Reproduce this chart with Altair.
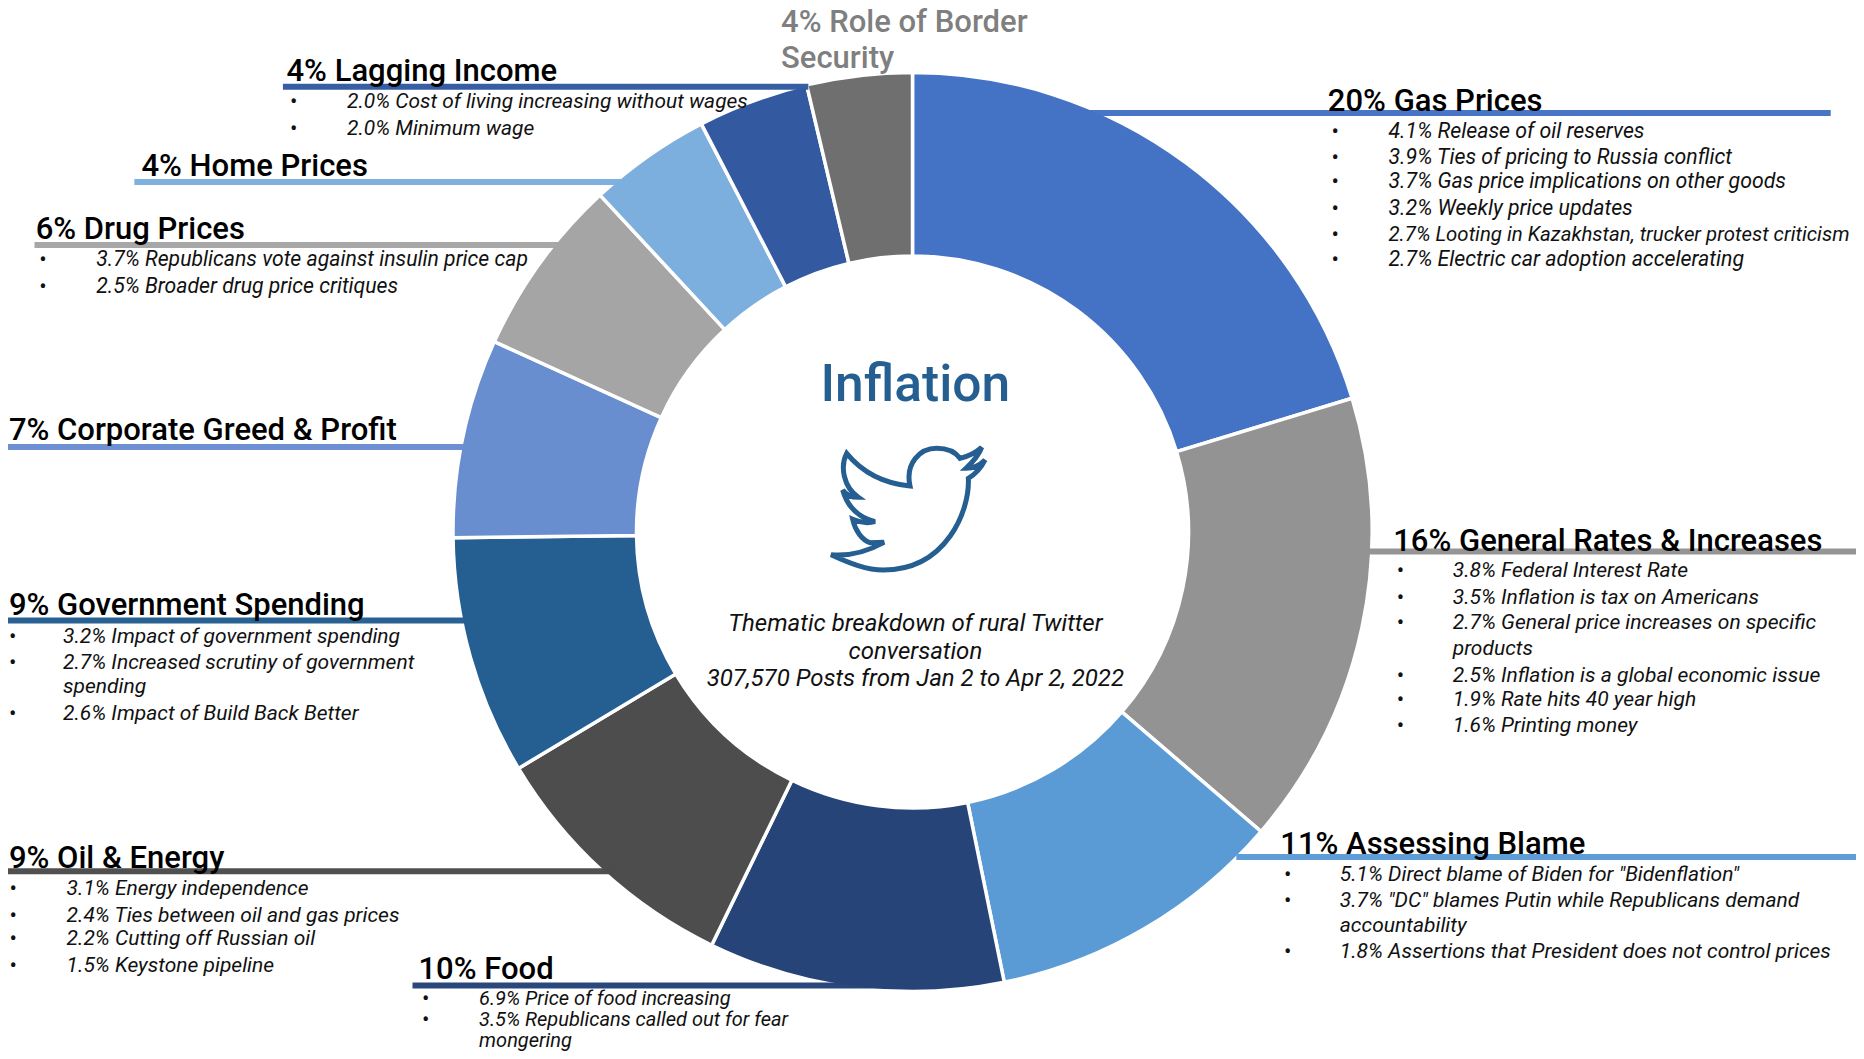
import altair as alt
import pandas as pd

# ---- chart values ----
themes = ["Gas Prices", "General Rates & Increases", "Assessing Blame", "Food", "Oil & Energy",
          "Government Spending", "Corporate Greed & Profit", "Drug Prices", "Home Prices",
          "Lagging Income", "Role of Border Security"]
shares = [20.3, 16.0, 10.5, 10.4, 9.2, 8.4, 7.0, 6.3, 4.3, 3.9, 3.7]
colors = ["#4472C4", "#939393", "#5B9BD5", "#264478", "#4D4D4D", "#255E91", "#698ED0",
          "#A5A5A5", "#7CAFDD", "#335AA1", "#6F6F6F"]

headers = ["20% Gas Prices", "16% General Rates & Increases", "11% Assessing Blame", "10% Food",
           "9% Oil & Energy", "9% Government Spending", "7% Corporate Greed & Profit",
           "6% Drug Prices", "4% Home Prices", "4% Lagging Income"]
border_lines = ["4% Role of Border", "Security"]

gas_items = ["4.1% Release of oil reserves", "3.9% Ties of pricing to Russia conflict",
             "3.7% Gas price implications on other goods", "3.2% Weekly price updates",
             "2.7% Looting in Kazakhstan, trucker protest criticism", "2.7% Electric car adoption accelerating"]
general_items = ["3.8% Federal Interest Rate", "3.5% Inflation is tax on Americans",
                 "2.7% General price increases on specific", "products",
                 "2.5% Inflation is a global economic issue", "1.9% Rate hits 40 year high", "1.6% Printing money"]
blame_items = ['5.1% Direct blame of Biden for "Bidenflation"',
               '3.7% "DC" blames Putin while Republicans demand', "accountability",
               "1.8% Assertions that President does not control prices"]
food_items = ["6.9% Price of food increasing", "3.5% Republicans called out for fear", "mongering"]
oil_items = ["3.1% Energy independence", "2.4% Ties between oil and gas prices",
             "2.2% Cutting off Russian oil", "1.5% Keystone pipeline"]
gov_items = ["3.2% Impact of government spending", "2.7% Increased scrutiny of government", "spending",
             "2.6% Impact of Build Back Better"]
drug_items = ["3.7% Republicans vote against insulin price cap", "2.5% Broader drug price critiques"]
lag_items = ["2.0% Cost of living increasing without wages", "2.0% Minimum wage"]

title_text = "Inflation"
desc_lines = ["Thematic breakdown of rural Twitter", "conversation", "307,570 Posts from Jan 2 to Apr 2, 2022"]

# ---- layout (image pixels, read on the 1568-wide view, scaled by K) ----
K = 1864 / 1568
CX, CY, R_OUT, R_IN = 912.5, 532, 459.5, 276
PAGE = 8
RIGHT, BOTTOM = 1856, 1051
TEXT_DY = 2
HEAD_FONT = "Roboto"
BODY_FONT = "Roboto"

header_pos = [(1117, 84), (1172, 454), (1077, 709), (352, 814), (7.5, 721), (7.5, 508), (7.5, 361), (30, 192), (119, 139), (241, 59)]
leaders = [(915, 1540, 95), (1150, 1562, 464), (1040, 1568, 721), (347, 745, 829), (5, 515, 733),
           (0, 392, 522), (2, 392, 376), (29, 472, 206), (113, 525, 153), (238, 680, 73)]
leader_colors = colors[:10]

blocks = [
    (gas_items, 1120, 1168, [109, 131, 151, 174, 196, 217], [], 21.3),
    (general_items, 1175, 1222, [479, 501, 522, 544, 567, 587, 609], [3], 21),
    (blame_items, 1080, 1127, [734, 756, 777, 799], [2], 21),
    (food_items, 355, 403, [839, 856.5, 874], [2], 20),
    (oil_items, 8, 56, [746, 769, 788, 811], [], 21),
    (gov_items, 7.5, 53, [534, 556, 576, 599], [2], 21),
    (drug_items, 33, 81, [217, 240], [], 21.2),
    (lag_items, 244, 292, [84, 107], [], 20.9),
]
FIT_TO_EDGE = {"2.7% Looting in Kazakhstan, trucker protest criticism": 20.4}

# bird outline, pixels relative to its centre at 3x, scaled through the symbol size
BIRD = ("M-232,134 C-170,140 -115,120 -73,97 L-115,98 C-140,90 -160,60 -167,28 C-145,38 -120,40 -100,35 "
        "C-140,25 -180,0 -197,-60 C-185,-42 -170,-38 -150,-38 C-195,-70 -205,-130 -185,-170 "
        "C-140,-115 -75,-80 5,-72 C-10,-140 35,-185 85,-185 C115,-185 140,-175 155,-155 "
        "Q195,-165 220,-188 Q210,-160 173,-125 Q205,-125 230,-150 Q213,-115 180,-95 "
        "C185,0 115,180 -75,180 C-125,180 -175,160 -232,134 Z")
BIRD_X, BIRD_Y = 780 + 385 / 3, 400 + 330 / 3

x_scale = alt.Scale(domain=[PAGE, RIGHT], range=[0, RIGHT - PAGE], nice=False, zero=False)
y_scale = alt.Scale(domain=[PAGE, BOTTOM], range=[0, BOTTOM - PAGE], nice=False, zero=False)
X = lambda f: alt.X(f, type="quantitative", scale=x_scale, axis=None)
Y = lambda f: alt.Y(f, type="quantitative", scale=y_scale, axis=None)

# ---- slices ----
pie = pd.DataFrame({"theme": themes, "share": shares, "color": colors, "i": range(len(themes))})
donut = alt.Chart(pie).mark_arc(radius=R_OUT, radius2=R_IN, stroke="white", strokeWidth=3.5).encode(
    theta=alt.Theta("share:Q", stack=True, scale=alt.Scale(domain=[0, sum(shares)], range=[0, 6.28318530718])),
    order=alt.Order("i:Q"),
    color=alt.Color("color:N", scale=None),
    x=alt.value(CX - PAGE), y=alt.value(CY - PAGE),
)

# ---- leader lines ----
lead = pd.DataFrame([{"x": max(a * K, PAGE), "x2": min(b * K, RIGHT), "y": y * K, "c": c}
                     for (a, b, y), c in zip(leaders, leader_colors)])
rules = alt.Chart(lead).mark_rule(strokeWidth=6, opacity=0.98).encode(
    x=X("x"), x2="x2:Q", y=Y("y"), color=alt.Color("c:N", scale=None))

# ---- headers ----
hd = pd.DataFrame([{"t": t, "x": p[0] * K, "y": p[1] * K + TEXT_DY} for t, p in zip(headers, header_pos)])
head = alt.Chart(hd).mark_text(align="left", baseline="middle", font=HEAD_FONT, fontSize=31, fontWeight=500,
                               color="black").encode(x=X("x"), y=Y("y"), text="t:N")
bd = pd.DataFrame({"t": border_lines, "x": [657 * K] * 2, "y": [18 * K + TEXT_DY, 48 * K + TEXT_DY]})
border = alt.Chart(bd).mark_text(align="left", baseline="middle", font=HEAD_FONT, fontSize=31, fontWeight=500,
                                 color="#7F7F7F").encode(x=X("x"), y=Y("y"), text="t:N")

# ---- items ----
rows, bullets = [], []
for items, bx, tx, ys, conts, fs in blocks:
    for n, (t, y) in enumerate(zip(items, ys)):
        rows.append({"t": t, "x": tx * K, "y": y * K + TEXT_DY, "fs": FIT_TO_EDGE.get(t, fs)})
        if n not in conts:
            bullets.append({"t": "•", "x": bx * K, "y": y * K + TEXT_DY})
item_text = alt.Chart(pd.DataFrame(rows)).mark_text(align="left", baseline="middle", font=BODY_FONT,
                                                    fontStyle="italic", color="#111111").encode(
    x=X("x"), y=Y("y"), text="t:N", size=alt.Size("fs:Q", scale=None))
bullet_text = alt.Chart(pd.DataFrame(bullets)).mark_text(align="left", baseline="middle", font=BODY_FONT, fontSize=22,
                                                         color="#111111").encode(x=X("x"), y=Y("y"), text="t:N")

# ---- centre ----
ttl = alt.Chart(pd.DataFrame({"t": [title_text], "x": [770 * K], "y": [323 * K + TEXT_DY]})).mark_text(
    align="center", baseline="middle", font=HEAD_FONT, fontSize=51.5, fontWeight=500, color="#255E91"
).encode(x=X("x"), y=Y("y"), text="t:N")
desc = alt.Chart(pd.DataFrame({"t": desc_lines, "x": [770 * K] * 3, "y": [524 * K + 1, 548 * K + 1, 570 * K + 1]})).mark_text(
    align="center", baseline="middle", font=BODY_FONT, fontSize=24, fontStyle="italic", color="#111111"
).encode(x=X("x"), y=Y("y"), text="t:N")
bird = alt.Chart(pd.DataFrame({"x": [BIRD_X], "y": [BIRD_Y]})).mark_point(
    shape=BIRD, size=(2 / 3) ** 2, filled=False, stroke="#255E91", strokeWidth=5, opacity=1
).encode(x=X("x"), y=Y("y"))

chart = alt.layer(donut, rules, head, border, item_text, bullet_text, ttl, desc, bird).resolve_scale(
    color="independent"
).properties(
    width=RIGHT - PAGE, height=BOTTOM - PAGE, padding=0, autosize=alt.AutoSizeParams(type="none"),
    background="white"
).configure_view(stroke=None)

chart.save("out.html", embed_options={"renderer": "svg", "actions": False})
